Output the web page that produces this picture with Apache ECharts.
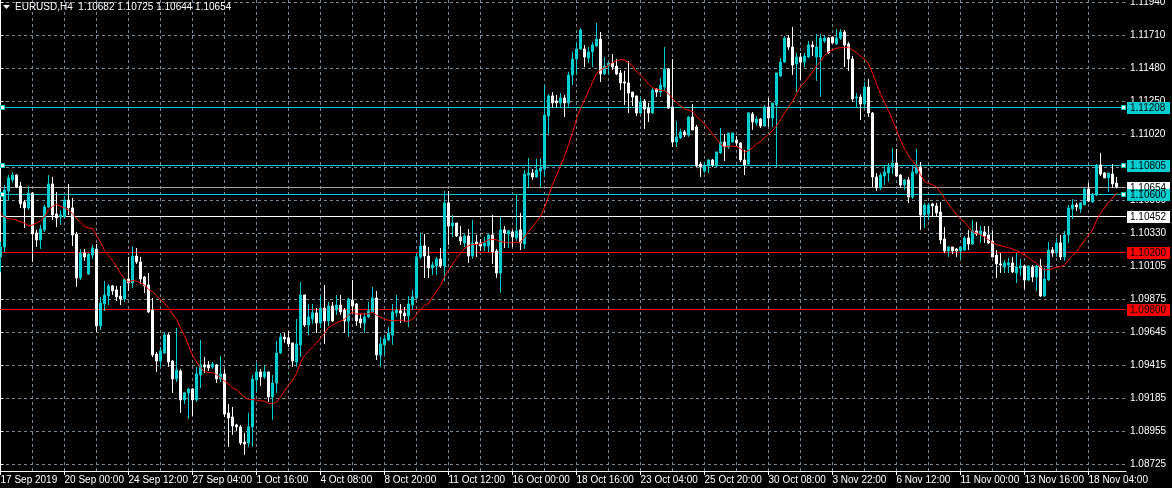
<!DOCTYPE html>
<html><head><meta charset="utf-8">
<script src="https://cdn.jsdelivr.net/npm/echarts@6/dist/echarts.min.js"></script>
<style>html,body{margin:0;padding:0;background:#000}#c{width:1172px;height:488px}</style>
</head><body><div id="c"></div>
<script>
const symbol = 'EURUSD', timeframe = 'H4';
const xTickLabels = ["17 Sep 2019","20 Sep 00:00","24 Sep 12:00","27 Sep 04:00","1 Oct 16:00","4 Oct 08:00","8 Oct 20:00","11 Oct 12:00","16 Oct 00:00","18 Oct 16:00","23 Oct 04:00","25 Oct 20:00","30 Oct 08:00","3 Nov 22:00","6 Nov 12:00","11 Nov 00:00","13 Nov 16:00","18 Nov 04:00"];
const yTickValues = [1.11940,1.11710,1.11480,1.11250,1.11020,1.10790,1.10560,1.10330,1.10105,1.09875,1.09645,1.09415,1.09185,1.08955,1.08725];

const opens = [1.10168,1.10237,1.10627,1.10704,1.10738,1.10662,1.10550,1.10509,1.10613,1.10335,1.10286,1.10356,1.10516,1.10676,1.10467,1.10446,1.10446,1.10564,1.10509,1.10328,
1.10021,1.10195,1.10049,1.10181,1.10223,1.09687,1.09840,1.09896,1.09966,1.09938,1.09896,1.09875,1.10014,1.09986,1.10174,1.10133,1.10028,1.09973,1.09798,1.09492,
1.09443,1.09499,1.09624,1.09443,1.09318,1.09374,1.09172,1.09221,1.09248,1.09172,1.09346,1.09416,1.09416,1.09402,1.09416,1.09318,1.09353,1.09081,1.09053,1.08998,
1.08984,1.08879,1.08872,1.08984,1.09311,1.09367,1.09332,1.09367,1.09193,1.09290,1.09499,1.09610,1.09604,1.09569,1.09436,1.09555,1.09903,1.09694,1.09736,1.09778,
1.09708,1.09812,1.09722,1.09826,1.09798,1.09833,1.09798,1.09722,1.09868,1.09840,1.09736,1.09708,1.09750,1.09785,1.09882,1.09485,1.09555,1.09590,1.09624,1.09778,
1.09792,1.09778,1.09757,1.09833,1.09882,1.10168,1.10244,1.10174,1.10091,1.10105,1.10154,1.10105,1.10544,1.10383,1.10404,1.10307,1.10265,1.10314,1.10174,1.10272,
1.10265,1.10244,1.10244,1.10321,1.10209,1.10056,1.10356,1.10328,1.10342,1.10300,1.10356,1.10258,1.10738,1.10752,1.10725,1.10766,1.10780,1.11149,1.11289,1.11254,
1.11240,1.11275,1.11240,1.11435,1.11546,1.11616,1.11616,1.11553,1.11595,1.11637,1.11685,1.11442,1.11497,1.11518,1.11497,1.11449,1.11386,1.11379,1.11316,1.11289,
1.11170,1.11254,1.11205,1.11170,1.11337,1.11316,1.11351,1.11477,1.11212,1.10968,1.10996,1.11038,1.11017,1.11142,1.11073,1.10815,1.10766,1.10801,1.10843,1.10801,
1.10892,1.10968,1.10933,1.10968,1.10982,1.10961,1.10843,1.10815,1.11163,1.11101,1.11128,1.11080,1.11212,1.11135,1.11226,1.11428,1.11525,1.11692,1.11630,1.11511,
1.11560,1.11525,1.11560,1.11644,1.11560,1.11560,1.11672,1.11692,1.11699,1.11651,1.11692,1.11734,1.11651,1.11546,1.11275,1.11282,1.11233,1.11351,1.11170,1.10725,
1.10648,1.10731,1.10752,1.10794,1.10822,1.10738,1.10669,1.10704,1.10585,1.10752,1.10794,1.10460,1.10467,1.10537,1.10523,1.10481,1.10293,1.10209,1.10237,1.10223,
1.10209,1.10216,1.10300,1.10258,1.10349,1.10321,1.10342,1.10321,1.10279,1.10181,1.10119,1.10098,1.10112,1.10126,1.10056,1.10091,1.10105,1.10007,1.10098,1.10028,
1.10105,1.09896,1.10007,1.10216,1.10195,1.10265,1.10168,1.10321,1.10502,1.10530,1.10502,1.10530,1.10641,1.10550,1.10599,1.10808,1.10752,1.10718,1.10745,1.10682];

const highs = [1.10272,1.10669,1.10738,1.10759,1.10745,1.10690,1.10564,1.10662,1.10620,1.10356,1.10390,1.10530,1.10738,1.10725,1.10620,1.10495,1.10592,1.10676,1.10578,1.10342,
1.10223,1.10223,1.10195,1.10251,1.10258,1.09889,1.10000,1.09980,1.09973,1.09966,1.09966,1.10021,1.10168,1.10244,1.10230,1.10168,1.10035,1.10056,1.09882,1.09506,
1.09541,1.09645,1.09638,1.09450,1.09673,1.09388,1.09228,1.09255,1.09255,1.09402,1.09590,1.09471,1.09443,1.09436,1.09422,1.09478,1.09388,1.09144,1.09123,1.09005,
1.08998,1.08942,1.09081,1.09346,1.09429,1.09388,1.09416,1.09367,1.09346,1.09583,1.09638,1.09638,1.09652,1.09569,1.09736,1.09993,1.09903,1.09840,1.09840,1.09812,
1.09896,1.09973,1.09854,1.09854,1.09903,1.09903,1.09812,1.09882,1.10007,1.09847,1.09771,1.09778,1.09854,1.09959,1.09931,1.09610,1.09624,1.09680,1.09840,1.09903,
1.09840,1.09819,1.09896,1.09938,1.10195,1.10335,1.10328,1.10237,1.10133,1.10168,1.10230,1.10627,1.10627,1.10460,1.10404,1.10383,1.10328,1.10362,1.10425,1.10321,
1.10293,1.10307,1.10328,1.10460,1.10223,1.10446,1.10383,1.10356,1.10356,1.10599,1.10474,1.10773,1.10857,1.10780,1.10850,1.10857,1.11365,1.11302,1.11316,1.11296,
1.11309,1.11296,1.11456,1.11595,1.11665,1.11762,1.11644,1.11630,1.11665,1.11797,1.11734,1.11560,1.11518,1.11581,1.11546,1.11470,1.11463,1.11532,1.11316,1.11289,
1.11282,1.11268,1.11240,1.11344,1.11344,1.11414,1.11630,1.11484,1.11546,1.11114,1.11059,1.11052,1.11149,1.11233,1.11087,1.10829,1.10829,1.10850,1.10850,1.10899,
1.11066,1.11024,1.11031,1.11031,1.11010,1.10968,1.10913,1.11177,1.11177,1.11149,1.11135,1.11226,1.11275,1.11240,1.11449,1.11553,1.11706,1.11713,1.11769,1.11588,
1.11588,1.11588,1.11672,1.11672,1.11720,1.11720,1.11713,1.11699,1.11699,1.11754,1.11754,1.11748,1.11665,1.11567,1.11309,1.11302,1.11386,1.11407,1.11177,1.10752,
1.10752,1.10801,1.10822,1.10926,1.10920,1.10745,1.10711,1.10725,1.10801,1.10920,1.10829,1.10544,1.10544,1.10544,1.10544,1.10550,1.10376,1.10244,1.10237,1.10230,
1.10237,1.10314,1.10356,1.10425,1.10411,1.10383,1.10383,1.10383,1.10349,1.10216,1.10195,1.10147,1.10161,1.10168,1.10195,1.10154,1.10112,1.10105,1.10112,1.10112,
1.10154,1.10091,1.10272,1.10237,1.10300,1.10321,1.10349,1.10530,1.10571,1.10544,1.10550,1.10648,1.10683,1.10613,1.10815,1.10892,1.10759,1.10752,1.10815,1.10725];

const lows = [1.10063,1.10202,1.10564,1.10683,1.10648,1.10509,1.10369,1.10495,1.10133,1.10237,1.10223,1.10342,1.10509,1.10425,1.10376,1.10390,1.10439,1.10460,1.10244,1.09959,
1.10007,1.10140,1.10042,1.10154,1.09645,1.09659,1.09792,1.09833,1.09903,1.09861,1.09833,1.09854,1.09931,1.09952,1.10119,1.09980,1.09917,1.09778,1.09471,1.09367,
1.09402,1.09492,1.09402,1.09221,1.09297,1.09081,1.09144,1.09040,1.09060,1.09158,1.09255,1.09360,1.09374,1.09388,1.09290,1.09297,1.09053,1.08845,1.08928,1.08956,
1.08858,1.08789,1.08845,1.08845,1.09228,1.09269,1.09318,1.09158,1.09033,1.09221,1.09492,1.09569,1.09541,1.09402,1.09402,1.09471,1.09680,1.09624,1.09701,1.09638,
1.09673,1.09562,1.09687,1.09715,1.09764,1.09764,1.09638,1.09610,1.09778,1.09687,1.09673,1.09638,1.09743,1.09778,1.09450,1.09402,1.09485,1.09583,1.09555,1.09750,
1.09708,1.09715,1.09680,1.09798,1.09875,1.10154,1.10021,1.10021,1.10042,1.10042,1.10091,1.10000,1.10251,1.10307,1.10307,1.10251,1.10237,1.10126,1.10154,1.10168,
1.10209,1.10209,1.10202,1.10119,1.10021,1.09917,1.10230,1.10230,1.10237,1.10279,1.10216,1.10223,1.10648,1.10704,1.10718,1.10655,1.10725,1.11017,1.11205,1.11212,
1.11212,1.11142,1.11212,1.11365,1.11435,1.11609,1.11490,1.11518,1.11490,1.11630,1.11386,1.11435,1.11435,1.11470,1.11435,1.11330,1.11226,1.11170,1.11219,1.11149,
1.11163,1.11059,1.11108,1.11163,1.11282,1.11282,1.11323,1.11198,1.10933,1.10933,1.10989,1.11003,1.11003,1.11052,1.10794,1.10725,1.10752,1.10752,1.10794,1.10794,
1.10885,1.10836,1.10920,1.10961,1.10940,1.10829,1.10738,1.10808,1.11052,1.11080,1.11066,1.11073,1.11073,1.11073,1.10794,1.11421,1.11518,1.11609,1.11435,1.11316,
1.11400,1.11490,1.11553,1.11567,1.11393,1.11282,1.11658,1.11581,1.11658,1.11644,1.11678,1.11490,1.11463,1.11247,1.11212,1.11121,1.11212,1.11142,1.10655,1.10627,
1.10634,1.10669,1.10690,1.10745,1.10725,1.10648,1.10634,1.10544,1.10571,1.10745,1.10356,1.10369,1.10425,1.10453,1.10453,1.10258,1.10195,1.10168,1.10188,1.10168,
1.10154,1.10209,1.10216,1.10251,1.10314,1.10265,1.10265,1.10258,1.10168,1.10021,1.10056,1.10056,1.10056,1.10056,1.09986,1.10035,1.09945,1.10000,1.09993,1.09931,
1.09889,1.09889,1.10000,1.10168,1.10168,1.10147,1.10140,1.10265,1.10432,1.10488,1.10474,1.10530,1.10550,1.10544,1.10592,1.10732,1.10718,1.10620,1.10648,1.10644];

const closes = [1.10237,1.10634,1.10718,1.10738,1.10655,1.10537,1.10509,1.10613,1.10328,1.10286,1.10362,1.10516,1.10676,1.10460,1.10439,1.10460,1.10564,1.10509,1.10321,1.10021,
1.10195,1.10168,1.10188,1.10230,1.09687,1.09847,1.09903,1.09966,1.09931,1.09889,1.09875,1.10014,1.09986,1.10174,1.10133,1.10014,1.09966,1.09785,1.09485,1.09443,
1.09513,1.09624,1.09436,1.09318,1.09381,1.09172,1.09221,1.09248,1.09172,1.09353,1.09416,1.09402,1.09395,1.09422,1.09318,1.09353,1.09074,1.09046,1.08991,1.08984,
1.08872,1.08865,1.08984,1.09318,1.09367,1.09332,1.09367,1.09193,1.09290,1.09499,1.09610,1.09597,1.09562,1.09443,1.09562,1.09903,1.09694,1.09750,1.09778,1.09708,
1.09812,1.09722,1.09826,1.09722,1.09833,1.09785,1.09722,1.09875,1.09826,1.09722,1.09708,1.09750,1.09792,1.09882,1.09485,1.09562,1.09597,1.09638,1.09785,1.09798,
1.09778,1.09757,1.09840,1.09889,1.10168,1.10244,1.10174,1.10091,1.10112,1.10154,1.10105,1.10544,1.10383,1.10404,1.10314,1.10279,1.10314,1.10174,1.10265,1.10258,
1.10244,1.10265,1.10321,1.10202,1.10056,1.10356,1.10335,1.10349,1.10307,1.10349,1.10265,1.10745,1.10752,1.10725,1.10773,1.10787,1.11156,1.11289,1.11240,1.11240,
1.11275,1.11240,1.11435,1.11546,1.11616,1.11748,1.11560,1.11595,1.11644,1.11685,1.11442,1.11497,1.11518,1.11490,1.11442,1.11379,1.11379,1.11309,1.11282,1.11170,
1.11247,1.11198,1.11170,1.11330,1.11316,1.11365,1.11477,1.11205,1.10968,1.11003,1.11038,1.11017,1.11142,1.11052,1.10801,1.10794,1.10808,1.10843,1.10808,1.10899,
1.10968,1.10933,1.11031,1.11031,1.10961,1.10843,1.10808,1.11170,1.11108,1.11128,1.11080,1.11212,1.11135,1.11240,1.11449,1.11525,1.11692,1.11630,1.11504,1.11560,
1.11525,1.11567,1.11644,1.11630,1.11630,1.11692,1.11692,1.11588,1.11658,1.11692,1.11734,1.11644,1.11546,1.11268,1.11282,1.11233,1.11351,1.11170,1.10725,1.10648,
1.10738,1.10759,1.10794,1.10822,1.10731,1.10669,1.10704,1.10585,1.10759,1.10794,1.10460,1.10530,1.10530,1.10523,1.10474,1.10286,1.10209,1.10237,1.10209,1.10209,
1.10237,1.10300,1.10258,1.10349,1.10328,1.10349,1.10314,1.10265,1.10168,1.10119,1.10112,1.10126,1.10126,1.10063,1.10098,1.10105,1.10007,1.10105,1.10028,1.10105,
1.09896,1.10014,1.10216,1.10195,1.10265,1.10168,1.10321,1.10509,1.10530,1.10516,1.10544,1.10641,1.10557,1.10606,1.10808,1.10745,1.10718,1.10752,1.10676,1.10654];

// moving average values read for the first bars (before a full period of closes is on screen)
const maLead = [1.10474,1.10446,1.10432,1.10432,1.10425,1.10411,1.10404,1.10383,1.10390,1.10404,1.10418,1.10446,1.10495];
const maPeriod = 14;

const cyanLevels = [1.11208, 1.10805, 1.10600];
const whiteLevels = [1.10452];
const redLevels = [1.09800, 1.10200];
const bidPrice = 1.10654;

const C_UP = '#00CED1', C_DN = '#FFFFFF', GRID = '#778899', C_RED = '#FF0000';
const FONT = 'Liberation Sans';

const n = opens.length;
const candleData = opens.map((o, i) => [i, o, closes[i], lows[i], highs[i]]);
const maData = closes.map((c, i) => {
  if (i < maPeriod - 1) return [i, maLead[i]];
  let s = 0; for (let k = i - maPeriod + 1; k <= i; k++) s += closes[k];
  return [i, s / maPeriod];
});

const xGridValues = []; for (let v = 8; v < n; v += 8) xGridValues.push(v);
const xLabelValues = xTickLabels.map((_, k) => k * 16);
const X_MIN = -0.125, X_MAX = 281.375, Y_MIN = 1.08677, Y_MAX = 1.11957;

const last = n - 1;
const titleText = `${symbol},${timeframe}  ${opens[last].toFixed(5)} ${highs[last].toFixed(5)} ${lows[last].toFixed(5)} ${closes[last].toFixed(5)}`;

const chart = echarts.init(document.getElementById('c'), null, { renderer: 'canvas' });
chart.setOption({
  backgroundColor: '#000',
  animation: false,
  grid: { left: 0, top: 0, right: 46, bottom: 17, containLabel: false, outerBoundsMode: 'none' },
  xAxis: {
    type: 'value', min: X_MIN, max: X_MAX,
    axisLine: { show: true, onZero: false, lineStyle: { color: '#fff', width: 1 } },
    axisTick: { show: false, customValues: xGridValues },
    splitLine: { show: true, lineStyle: { color: GRID, type: [3, 3], width: 1 } },
    axisLabel: {
      customValues: xLabelValues,
      formatter: v => xTickLabels[Math.round(v / 16)] || '',
      color: '#fff', fontFamily: FONT, fontSize: 10,
      align: 'left', verticalAlign: 'top', margin: 4
    }
  },
  yAxis: {
    type: 'value', position: 'right', min: Y_MIN, max: Y_MAX, scale: true,
    axisLine: { show: true, lineStyle: { color: '#fff', width: 1 } },
    axisTick: { show: true, length: 3, customValues: yTickValues, lineStyle: { color: '#fff' } },
    splitLine: { show: true, lineStyle: { color: GRID, type: [3, 3], width: 1 } },
    axisLabel: {
      customValues: yTickValues,
      formatter: v => v.toFixed(5),
      color: '#fff', fontFamily: FONT, fontSize: 10, margin: 4
    }
  },
  series: [
    {
      type: 'candlestick', z: 3,
      encode: { x: 0, y: [1, 2, 3, 4] },
      data: candleData, barWidth: 2,
      itemStyle: { color: C_UP, color0: C_DN, borderColor: C_UP, borderColor0: C_DN, borderWidth: 1 }
    },
    {
      type: 'line', z: 4, data: maData, showSymbol: false, symbol: 'none',
      lineStyle: { color: C_RED, width: 1 }
    }
  ]
});

// Horizontal price levels, their price boxes, anchors and x ticks – placed via the chart's own scales
const px = v => chart.convertToPixel({ xAxisIndex: 0 }, v);
const py = v => chart.convertToPixel({ yAxisIndex: 0 }, v);
const xL = px(X_MIN), xR = px(X_MAX), yB = py(Y_MIN);

const levels = [
  { v: bidPrice, line: '#A0A0A0', box: '#FFFFFF' },
  ...cyanLevels.map(v => ({ v, line: C_UP, box: C_UP, anchors: true })),
  ...whiteLevels.map(v => ({ v, line: '#FFFFFF', box: '#FFFFFF' })),
  ...redLevels.map(v => ({ v, line: C_RED, box: C_RED }))
];
const g = [];
levels.forEach((l, k) => {
  const row = Math.floor(py(l.v));
  g.push({ type: 'rect', id: 'lv' + k, silent: true, z: 1, shape: { x: xL, y: row, width: xR - xL, height: 1 }, style: { fill: l.line } });
  g.push({ type: 'rect', id: 'bx' + k, silent: true, z: 60, shape: { x: xR + 1, y: row - 5, width: 43, height: 12 }, style: { fill: l.box } });
  g.push({ type: 'text', id: 'tx' + k, silent: true, z: 61, x: xR + 4, y: row + 1, style: { text: l.v.toFixed(5), fill: '#000', font: '10px "Liberation Sans"', verticalAlign: 'middle' } });
  if (l.anchors) {
    [0.4, 280.7].forEach((xi, j) => {
      const cx = Math.round(px(xi));
      g.push({ type: 'rect', id: 'an' + k + '_' + j, silent: true, z: 62, shape: { x: cx - 2 + 0.5, y: row - 1.5, width: 4, height: 4 }, style: { fill: '#fff', stroke: C_UP, lineWidth: 1 } });
    });
  }
});
xLabelValues.forEach((v, k) => {
  const x = Math.floor(px(v));
  g.push({ type: 'rect', id: 'tk' + k, silent: true, z: 5, shape: { x: x, y: yB, width: 1, height: 4 }, style: { fill: '#fff' } });
});
g.push({ type: 'polygon', id: 'tri', shape: { points: [[3, 5], [10, 5], [6.5, 9]] }, style: { fill: '#fff' }, z: 100 });
g.push({ type: 'text', id: 'ttl', x: 15, y: 2, style: { text: titleText, fill: '#fff', font: '10px "Liberation Sans"' }, z: 100 });
chart.setOption({ graphic: { elements: g } });
</script>
</body></html>
